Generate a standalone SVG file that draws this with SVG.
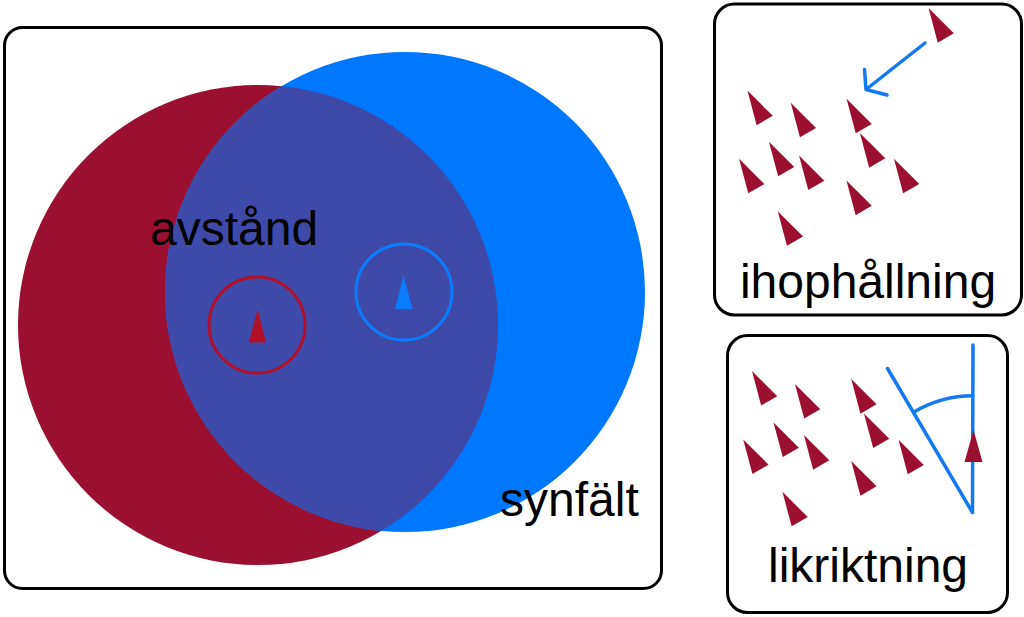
<svg xmlns="http://www.w3.org/2000/svg" width="1024" height="617" viewBox="0 0 1024 617">
<style>
.box{fill:none;stroke:#000;stroke-width:3}
.lbl{font-family:"Liberation Sans",Arial,sans-serif;font-size:48px;fill:#000}
.tri{fill:#9b1030}
.bl{fill:none;stroke:#1279f0;stroke-width:3.5;stroke-linecap:round;stroke-linejoin:round}
</style>
<defs>
<path id="t" d="M0,-34.5 L9.3,0 L-9.3,0 Z"/>
<clipPath id="bc"><circle cx="405" cy="292" r="240"/></clipPath>
</defs>
<rect width="1024" height="617" fill="#fff"/>
<g id="main">
<circle cx="258" cy="325" r="240" fill="#9b1030"/>
<circle cx="405" cy="292" r="240" fill="#0077ff"/>
<circle cx="258" cy="325" r="240" fill="#3f4aa8" clip-path="url(#bc)"/>
<circle cx="257" cy="325" r="48" fill="none" stroke="#b0102a" stroke-width="3"/>
<path d="M257.5,309 L266,342.5 L249,342.5 Z" fill="#b0102a"/>
<circle cx="404" cy="292" r="48" fill="none" stroke="#0a7cff" stroke-width="3"/>
<path d="M403.5,275.5 L412.5,309 L395,309 Z" fill="#0a7cff"/>
<text class="lbl" x="150" y="245">avstånd</text>
<text class="lbl" x="500" y="516">synfält</text>
<rect class="box" x="4.5" y="27.5" width="657" height="561" rx="18"/>
</g>
<g id="ihophallning">
<rect class="box" x="714.5" y="4" width="307" height="311" rx="20"/>
<use href="#t" class="tri" transform="translate(764.7,120.5) rotate(-30)"/>
<use href="#t" class="tri" transform="translate(808,132.7) rotate(-30)"/>
<use href="#t" class="tri" transform="translate(863.8,128.7) rotate(-30)"/>
<use href="#t" class="tri" transform="translate(786.2,171.7) rotate(-30)"/>
<use href="#t" class="tri" transform="translate(756.3,188.7) rotate(-30)"/>
<use href="#t" class="tri" transform="translate(816.3,185.3) rotate(-30)"/>
<use href="#t" class="tri" transform="translate(877.2,163) rotate(-30)"/>
<use href="#t" class="tri" transform="translate(911.2,188.7) rotate(-30)"/>
<use href="#t" class="tri" transform="translate(863.7,210.5) rotate(-30)"/>
<use href="#t" class="tri" transform="translate(795,241.2) rotate(-30)"/>
<use href="#t" class="tri" transform="translate(945.8,38) rotate(-30)"/>
<path class="bl" d="M925,43 L866,89.5 M864.5,69.5 L866,89.5 L887,95"/>
<text class="lbl" x="868" y="298" text-anchor="middle">ihophållning</text>
</g>
<g id="likriktning">
<rect class="box" x="727.5" y="335.5" width="280" height="277" rx="20"/>
<use href="#t" class="tri" transform="translate(769.2,400.8) rotate(-30)"/>
<use href="#t" class="tri" transform="translate(812.2,413.8) rotate(-30)"/>
<use href="#t" class="tri" transform="translate(868.5,409) rotate(-30)"/>
<use href="#t" class="tri" transform="translate(790.8,452.3) rotate(-30)"/>
<use href="#t" class="tri" transform="translate(760.5,469.3) rotate(-30)"/>
<use href="#t" class="tri" transform="translate(821.2,465) rotate(-30)"/>
<use href="#t" class="tri" transform="translate(881.2,443.3) rotate(-30)"/>
<use href="#t" class="tri" transform="translate(915.8,469.7) rotate(-30)"/>
<use href="#t" class="tri" transform="translate(868.5,491) rotate(-30)"/>
<use href="#t" class="tri" transform="translate(799.7,521.7) rotate(-30)"/>
<path class="bl" d="M973,345 L972.5,512.5 L887.5,368.5"/>
<path class="bl" d="M914.3,411.7 A117,117 0 0 1 972.8,395.7"/>
<path class="tri" d="M973.5,430 L982.5,462 L964.5,462 Z"/>
<text class="lbl" x="868" y="582" text-anchor="middle">likriktning</text>
</g>
</svg>
